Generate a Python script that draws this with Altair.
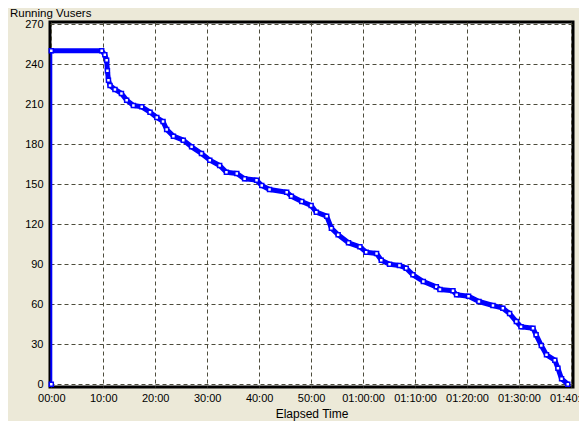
import altair as alt
import pandas as pd

# Elapsed time in minutes and number of running Vusers
minutes = [0, 0, 9.7, 10.3, 10.65, 10.8, 11.0, 11.3, 12.25, 13.5, 14.5, 15.8, 17.4,
           19.0, 20.3, 21.5, 22.2, 23.5, 25.4, 27.0, 28.9, 30.5, 32.4, 33.7, 35.7,
           37.2, 39.5, 40.5, 42.0, 45.3, 46.2, 48.2, 50.0, 51.0, 53.0, 53.9, 55.2,
           57.2, 59.4, 60.6, 62.6, 63.5, 65.1, 67.0, 68.3, 69.6, 71.6, 74.1, 74.8,
           77.3, 78.0, 80.3, 82.3, 85.0, 86.9, 88.2, 89.5, 90.4, 92.7, 93.3, 94.3,
           95.3, 96.9, 97.5, 98.2, 99.4]
vusers = [0, 250, 250, 247, 243, 235, 228, 224, 221, 218, 213, 209, 208,
          204, 200, 197, 191, 186, 183, 178, 173, 168, 164, 159, 158,
          154, 153, 149, 146, 144, 141, 137, 134, 129, 126, 117, 112,
          106, 103, 99, 98, 93, 90, 89, 87, 82, 77, 73, 71,
          70, 67, 66, 62, 59, 57, 53, 47, 43, 42, 37, 29,
          22, 18, 12, 4, 0]

x_ticks = [0, 10, 20, 30, 40, 50, 60, 70, 80, 90, 100]
x_tick_labels = ["00:00", "10:00", "20:00", "30:00", "40:00", "50:00",
                 "01:00:00", "01:10:00", "01:20:00", "01:30:00", "01:40:00"]
y_ticks = [0, 30, 60, 90, 120, 150, 180, 210, 240, 270]

df = pd.DataFrame({"t": minutes, "v": vusers, "i": list(range(len(minutes)))})

label_expr = "{" + ",".join(f"'{v}':'{l}'" for v, l in zip(x_ticks, x_tick_labels)) + "}[datum.value]"

FONT = "Liberation Sans"
GRID = "#4d4c3c"
BLUE = "#0000ff"

x_enc = alt.X("t:Q", scale=alt.Scale(domain=[-0.25, 100.4], nice=False, zero=False),
              axis=alt.Axis(values=x_ticks, labelExpr=label_expr, title="Elapsed Time",
                            grid=True, gridColor=GRID, gridDash=[4, 3], gridOpacity=1,
                            gridWidth=1, domain=False, ticks=False, tickSize=0,
                            labelPadding=5, labelFont=FONT, labelFontSize=11,
                            labelColor="black", titleFont=FONT, titleFontSize=12,
                            titleFontWeight="normal", titleColor="black",
                            titlePadding=5, labelFlush=False, labelOverlap=False))
y_enc = alt.Y("v:Q", scale=alt.Scale(domain=[-2.1, 271.6], nice=False, zero=False),
              axis=alt.Axis(values=y_ticks, title=None, grid=True, gridColor=GRID,
                            gridDash=[4, 3], gridOpacity=1, gridWidth=1, domain=False,
                            ticks=False, tickSize=0, labelPadding=7, labelFont=FONT,
                            labelFontSize=11, labelColor="black", labelFlush=False,
                            labelOverlap=False))

base = alt.Chart(df)

thin = base.mark_line(color=BLUE, strokeWidth=2).encode(x=x_enc, y=y_enc, order="i:Q")
thick = base.transform_filter("datum.i >= 1").mark_line(
    color=BLUE, strokeWidth=5, strokeJoin="round").encode(x=x_enc, y=y_enc, order="i:Q")
pts = base.mark_point(shape="square", size=16, filled=True, fill="white",
                      stroke=BLUE, strokeWidth=1.5, opacity=1).encode(x=x_enc, y=y_enc)

chart = alt.layer(thin, thick, pts).properties(
    width=523, height=365,
    autosize="none",
    padding={"left": 42, "top": 14, "right": 6, "bottom": 34},
    background="#ECE9D8",
    title=alt.TitleParams("Running Vusers", anchor="start", frame="group", dx=-40,
                          dy=11, offset=1, baseline="alphabetic", font=FONT,
                          fontSize=11.5, fontWeight="normal", color="black"),
).configure_view(fill="white", stroke="black", strokeWidth=3)

chart.save("out.html", embed_options={"renderer": "svg", "actions": False})
